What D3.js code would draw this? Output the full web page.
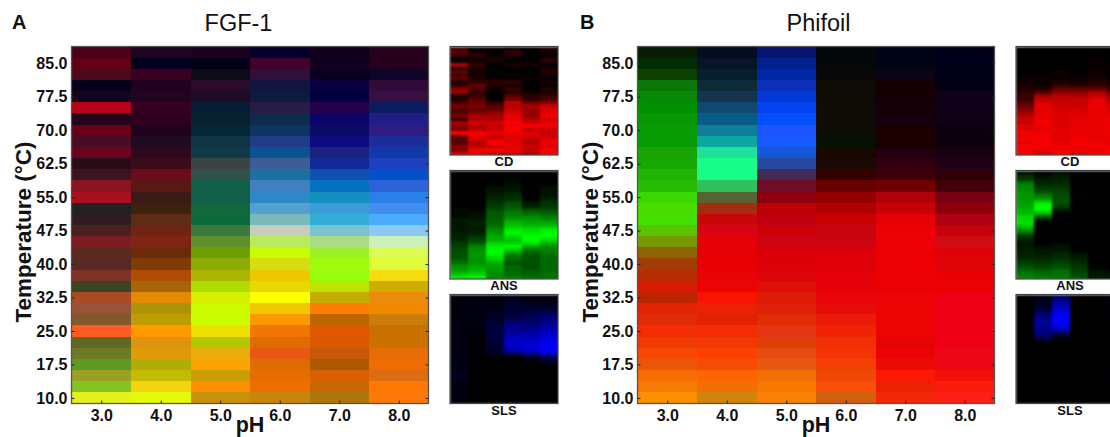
<!DOCTYPE html>
<html><head><meta charset="utf-8">
<script src="https://cdn.jsdelivr.net/npm/d3@7"></script>
<style>html,body{margin:0;padding:0;background:#fff;overflow:hidden}svg{display:block}text{font-family:"Liberation Sans",Arial,sans-serif;fill:#111}</style>
</head><body><svg id="c" width="1110" height="437"></svg>
<script>
const phValues = [3, 4, 5, 6, 7, 8];
const temperatures = [87.5,85,82.5,80,77.5,75,72.5,70,67.5,65,62.5,60,57.5,55,52.5,50,47.5,45,42.5,40,37.5,35,32.5,30,27.5,25,22.5,20,17.5,15,12.5,10];
const tempTicks = [85,77.5,70,62.5,55,47.5,40,32.5,25,17.5,10];

// Signal intensity (0-255), one list per pH, temperatures from 87.5 down to 10.
const fgfCD = [
[74,98,74,4,20,184,36,106,74,106,42,60,138,168,34,46,74,122,90,86,126,60,168,152,128,255,94,110,94,154,132,230],
[30,2,58,32,34,56,46,30,32,46,58,106,90,58,60,94,112,128,106,126,176,170,226,172,192,255,222,224,176,196,244,228],
[26,2,14,42,28,4,8,2,16,16,58,48,16,16,18,10,60,96,108,140,172,176,212,204,204,238,180,236,252,204,252,200],
[4,66,46,16,14,38,14,14,32,10,60,28,64,46,84,120,200,184,200,216,236,232,255,240,252,240,224,232,222,232,236,200],
[16,16,10,10,0,36,12,12,12,28,16,16,4,20,60,52,120,170,156,160,152,192,196,252,188,224,220,200,172,216,200,172],
[40,36,14,50,54,10,32,48,28,16,28,4,44,40,64,76,140,204,220,224,244,208,236,240,204,200,204,232,240,220,252,252]];
const fgfANS = [
[0,0,10,0,4,0,4,0,12,4,12,20,20,16,34,30,32,28,42,42,50,68,74,84,88,90,106,122,154,160,196,240],
[4,0,0,2,4,0,2,2,12,8,12,12,24,28,32,44,36,36,44,60,76,100,138,148,156,154,148,156,172,188,212,250],
[2,0,10,12,12,28,32,40,52,58,68,80,96,96,104,106,122,144,160,172,180,220,240,250,252,224,200,172,164,156,144,144],
[0,0,16,20,26,28,42,52,60,82,92,112,128,136,160,186,204,236,252,220,200,216,255,200,152,120,108,88,108,108,112,134],
[0,0,0,0,0,0,4,12,12,32,42,80,112,144,156,172,196,220,240,252,252,228,172,124,100,88,88,88,88,96,104,120],
[0,0,4,10,16,28,28,28,44,56,64,80,100,128,140,172,200,240,252,252,220,172,140,136,124,112,112,108,108,108,120,120]];
const fgfSLS = [
[24,20,28,26,28,24,28,24,36,32,24,32,32,32,34,34,32,34,32,34,38,36,34,56,42,34,34,34,32,36,28,28],
[32,28,32,30,32,32,30,30,32,30,26,26,20,22,16,20,20,20,8,8,4,8,4,8,4,0,16,8,8,4,16,12],
[30,24,26,40,36,52,48,58,66,74,68,72,72,74,62,58,60,44,0,8,4,0,0,0,0,0,0,12,0,4,0,12],
[44,44,56,62,62,70,76,96,134,144,152,160,192,200,208,186,188,92,0,16,0,0,0,0,0,0,0,16,0,0,0,12],
[30,30,32,64,64,76,104,100,128,128,152,176,192,192,216,216,208,136,40,12,16,0,0,4,0,0,0,8,0,0,4,12],
[28,28,40,56,68,96,136,128,152,168,192,200,216,232,240,252,240,188,84,56,16,0,12,0,8,0,0,4,0,16,0,8]];

const phiCD = [
[10,0,12,10,8,0,8,8,8,24,24,32,40,56,72,68,88,120,140,160,184,216,188,224,224,244,240,248,232,248,244,252],
[4,8,4,12,20,16,8,16,8,32,24,24,48,88,164,200,216,228,228,232,232,236,248,236,228,244,244,252,244,252,240,208],
[4,4,0,12,4,4,4,28,24,20,40,64,112,140,188,192,204,204,220,220,220,224,220,224,228,228,220,228,232,240,248,248],
[4,4,8,12,12,12,12,12,4,24,28,52,104,148,176,200,200,204,220,224,228,232,232,232,236,240,240,244,244,240,248,208],
[0,0,12,20,20,20,20,28,28,32,48,60,112,176,200,228,236,236,236,236,236,236,236,236,236,236,228,236,236,252,236,244],
[0,0,0,0,16,16,16,12,12,24,32,48,68,120,140,176,200,208,224,224,232,236,240,240,240,240,240,236,236,240,252,252]];
const phiANS = [
[28,44,64,120,136,144,152,156,156,164,168,180,188,216,220,224,196,152,100,60,44,28,36,36,44,44,60,72,88,108,124,144],
[12,20,32,44,52,72,92,128,168,224,252,252,192,100,44,8,4,0,0,0,4,4,20,32,32,44,56,64,76,100,112,132],
[20,32,40,48,56,68,80,84,88,88,72,44,12,0,0,0,0,4,0,0,4,16,28,32,44,52,64,76,88,112,120,128],
[8,8,8,12,12,12,12,12,16,8,8,0,0,0,0,0,4,4,0,0,0,0,4,12,24,36,48,52,64,72,80,96],
[4,4,4,0,0,0,0,0,0,0,0,0,0,0,0,0,0,0,0,0,0,0,4,4,4,4,4,4,12,24,32,40],
[0,0,0,0,0,0,0,0,0,0,0,0,0,0,0,0,0,12,0,4,0,0,0,0,0,0,0,8,8,16,28,32]];
const phiSLS = [
[4,4,0,4,4,0,4,4,4,4,4,4,4,0,0,0,0,4,4,4,4,4,0,4,4,4,4,4,8,4,4,0],
[32,40,44,56,80,112,136,152,160,156,136,136,96,48,16,8,20,4,4,4,4,4,0,4,4,4,4,4,4,4,4,12],
[112,140,164,184,216,240,252,252,252,216,160,84,40,16,4,16,8,16,8,8,8,8,4,8,4,20,4,16,16,4,4,4],
[8,8,8,4,4,4,4,4,4,0,4,0,0,0,0,0,16,16,8,8,8,8,8,8,8,4,4,4,4,4,8,12],
[20,20,20,4,4,8,12,0,0,16,16,8,0,8,8,4,4,4,4,4,4,4,4,4,4,4,4,4,4,4,4,8],
[28,28,24,20,24,24,20,16,12,16,20,8,8,16,8,20,12,20,8,8,4,4,20,20,20,20,20,20,20,8,12,20]];

const panels = [
  {tag:"A", title:"FGF-1", cd:fgfCD, ans:fgfANS, sls:fgfSLS, x0:71.5, tagX:12, titleX:238.5, yLabelX:30.5, inset:450},
  {tag:"B", title:"Phifoil", cd:phiCD, ans:phiANS, sls:phiSLS, x0:637.5, tagX:580, titleX:818.5, yLabelX:597.5, inset:1016}
];

const svg = d3.select("#c");
const defs = svg.append("defs");
defs.append("filter").attr("id","soft").attr("filterUnits","userSpaceOnUse")
  .attr("x",0).attr("y",0).attr("width",1200).attr("height",437)
  .attr("color-interpolation-filters","sRGB")
  .append("feGaussianBlur").attr("stdDeviation","0.5").attr("edgeMode","duplicate");
defs.append("filter").attr("id","blur").attr("filterUnits","userSpaceOnUse")
  .attr("x",0).attr("y",0).attr("width",1200).attr("height",437)
  .attr("color-interpolation-filters","sRGB")
  .append("feGaussianBlur").attr("stdDeviation","0.9 1.0").attr("edgeMode","duplicate");

const plotTop = 46.5, plotBottom = 403.5, plotW = 357;
const insetW = 108;
const tFormat = d3.format(".1f");
const halfRow = 1.25, halfPh = 0.5;
const phDomain = [d3.min(phValues)-halfPh, d3.max(phValues)+halfPh];
const tDomain = [d3.min(temperatures)-halfRow, d3.max(temperatures)+halfRow];

// Insets show one channel alone, with the faint background taken out.
const floorScale = f => d3.scaleLinear().domain([f,255]).range([0,255]).clamp(true);
const insetDefs = [
  {label:"CD", key:"cd", top:46.5, bottom:155, base:166, level:floorScale(12), color:v=>d3.rgb(v,0,0)},
  {label:"ANS", key:"ans", top:170.5, bottom:279, base:290, level:floorScale(10), color:v=>d3.rgb(0,v,0)},
  {label:"SLS", key:"sls", top:294.5, bottom:403.5, base:415, level:floorScale(16), color:v=>d3.rgb(0,0,v)}
];

panels.forEach((p,pi)=>{
  const x = d3.scaleLinear().domain(phDomain).range([p.x0, p.x0+plotW]);
  const y = d3.scaleLinear().domain(tDomain).range([plotBottom, plotTop]);
  const clipId = "clip"+pi;
  defs.append("clipPath").attr("id",clipId).append("rect")
    .attr("x",x.range()[0]).attr("y",plotTop).attr("width",plotW).attr("height",plotBottom-plotTop);

  const cells = svg.append("g").attr("clip-path",`url(#${clipId})`).append("g").attr("filter","url(#soft)");
  phValues.forEach((ph,i)=>{
    cells.append("g").selectAll("rect").data(temperatures).join("rect")
      .attr("x",x(ph-halfPh)).attr("width",x(ph+halfPh)-x(ph-halfPh)+0.8)
      .attr("y",t=>y(t+halfRow)).attr("height",t=>y(t-halfRow)-y(t+halfRow)+0.8)
      .attr("shape-rendering","crispEdges")
      .attr("fill",(t,r)=>d3.rgb(p.cd[i][r],p.ans[i][r],p.sls[i][r]));
  });
  svg.append("rect").attr("x",x.range()[0]).attr("y",plotTop).attr("width",plotW).attr("height",plotBottom-plotTop)
    .attr("fill","none").attr("stroke","#555").attr("stroke-width",1.3);

  const styleAxis = g=>{
    g.select(".domain").remove();
    g.selectAll("line").attr("stroke","#222").attr("stroke-width",1);
    g.selectAll("text").attr("font-size",16).attr("font-weight","bold")
     .style("font-family",'"Liberation Sans",Arial,sans-serif').attr("fill","#111");
  };
  svg.append("g").attr("transform",`translate(${x.range()[0]},0)`)
    .call(d3.axisLeft(y).tickValues(tempTicks).tickFormat(tFormat).tickSizeInner(-3).tickSizeOuter(0).tickPadding(4)).call(styleAxis);
  svg.append("g").attr("transform",`translate(${x.range()[1]},0)`)
    .call(d3.axisRight(y).tickValues(tempTicks).tickFormat("").tickSizeInner(-3).tickSizeOuter(0)).call(styleAxis);
  svg.append("g").attr("transform",`translate(0,${plotBottom})`)
    .call(d3.axisBottom(x).tickValues(phValues).tickFormat(tFormat).tickSizeInner(-3).tickSizeOuter(0).tickPadding(6)).call(styleAxis);

  svg.append("text").attr("x",p.tagX).attr("y",29).attr("font-size",20).attr("font-weight","bold").text(p.tag);
  svg.append("text").attr("x",p.titleX).attr("y",31).attr("font-size",23.5).attr("text-anchor","middle").text(p.title);
  svg.append("text").attr("x",x(5.5)).attr("y",432).attr("font-size",21.5).attr("font-weight","bold").attr("text-anchor","middle").text("pH");
  svg.append("text").attr("transform",`translate(${p.yLabelX},232) rotate(-90)`)
    .attr("font-size",22.5).attr("font-weight","bold").attr("text-anchor","middle").text("Temperature (°C)");

  insetDefs.forEach((d,di)=>{
    const ix = d3.scaleLinear().domain(phDomain).range([p.inset, p.inset+insetW]);
    const iy = d3.scaleLinear().domain(tDomain).range([d.bottom, d.top]);
    const cid = `ic${pi}${di}`;
    defs.append("clipPath").attr("id",cid).append("rect")
      .attr("x",p.inset).attr("y",d.top).attr("width",insetW).attr("height",d.bottom-d.top);
    const g = svg.append("g").attr("clip-path",`url(#${cid})`).append("g").attr("filter","url(#blur)");
    phValues.forEach((ph,i)=>{
      g.append("g").selectAll("rect").data(temperatures).join("rect")
        .attr("x",ix(ph-halfPh)).attr("width",ix(ph+halfPh)-ix(ph-halfPh)+0.8)
        .attr("y",t=>iy(t+halfRow)).attr("height",t=>iy(t-halfRow)-iy(t+halfRow)+0.8)
        .attr("shape-rendering","crispEdges")
        .attr("fill",(t,r)=>d.color(d.level(p[d.key][i][r])));
    });
    svg.append("rect").attr("x",p.inset).attr("y",d.top).attr("width",insetW).attr("height",d.bottom-d.top)
      .attr("fill","none").attr("stroke","#444").attr("stroke-width",1.2);
    svg.append("text").attr("x",p.inset+insetW/2).attr("y",d.base).attr("font-size",13).attr("font-weight","bold")
      .attr("text-anchor","middle").text(d.label);
  });
});
</script></body></html>
